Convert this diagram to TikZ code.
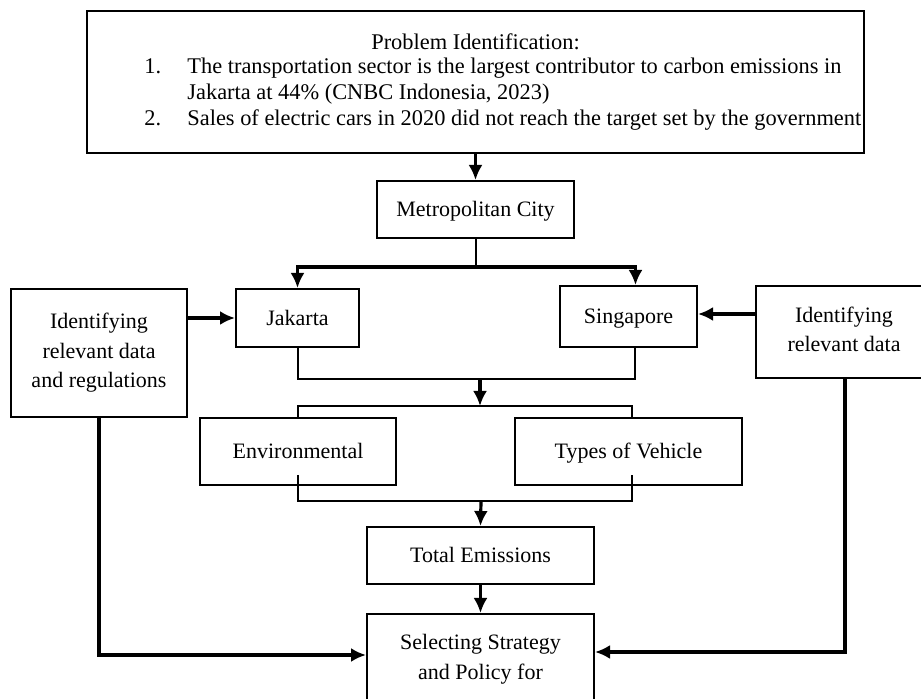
\documentclass[tikz,border=0pt]{standalone}
\usepackage{fontspec}
\setmainfont{Liberation Serif}
\usetikzlibrary{arrows.meta}

\newcommand{\BoxStrut}{\rule[-2.5pt]{0pt}{12.2pt}}
\tikzstyle{Block}=[rectangle,draw=black,line width=1pt,inner sep=0pt,
  align=center,font=\fontsize{11}{14.75}\selectfont,
  execute at begin node=\BoxStrut,execute at end node=\BoxStrut]
\tikzstyle{ArrowObject}=[black,line width=1.6pt,-{Latex[length=7.5pt,width=7pt]}]
\tikzstyle{LineObject}=[black,line width=1pt]

\begin{document}
\begin{tikzpicture}[x=0.5pt, y=-0.5pt]
		\useasboundingbox (0,0) rectangle (921,699);
		
		% Problem identification
		\draw(475.5,82) node[Block,minimum width=388.5pt,minimum height=71pt,
		  execute at begin node={},execute at end node={}] (Problem) {};
		\draw(475.5,42) node[font=\fontsize{11.2}{13}\selectfont,inner sep=0pt] (ProblemTitle) {Problem Identification:};
		\draw(144,94.5) node[anchor=west,inner sep=0pt,font=\fontsize{11.2}{13}\selectfont] (ProblemList) {%
		  \begin{tabular}{@{}p{21.5pt}@{}l@{}}
		  1. & The transportation sector is the largest contributor to carbon emissions in\\
		     & Jakarta at 44\% (CNBC Indonesia, 2023)\\
		  2. & Sales of electric cars in 2020 did not reach the target set by the government
		  \end{tabular}};
		
		% Cities
		\draw(475.5,209.5) node[Block,minimum width=98.5pt,minimum height=28.5pt] (Metro) {Metropolitan City};
		\draw(297.5,318) node[Block,minimum width=61.5pt,minimum height=29pt] (Jakarta) {Jakarta};
		\draw(628.5,316.5) node[Block,minimum width=68.5pt,minimum height=30.5pt] (Singapore) {Singapore};
		
		% Data sources
		\draw(99,353) node[Block,minimum width=88pt,minimum height=64pt] (IdentLeft) {Identifying\\relevant data\\and regulations};
		\draw(844,332) node[Block,minimum width=88pt,minimum height=46pt] (IdentRight) {Identifying\\relevant data};
		
		% Factors
		\draw(298,451.5) node[Block,minimum width=98pt,minimum height=33.5pt] (Env) {Environmental};
		\draw(628.5,451.5) node[Block,minimum width=113.5pt,minimum height=33.5pt] (Types) {Types of Vehicle};
		\draw(480.5,555.5) node[Block,minimum width=113.5pt,minimum height=28.5pt] (Total) {Total Emissions};
		\draw(480.5,659.5) node[Block,minimum width=113.5pt,minimum height=45.5pt] (Select) {Selecting Strategy\\and Policy for};
		
		% Junction points
		\coordinate (MetroSplit) at (475.5,267);
		\coordinate (CityJoin) at (480,379);
		\coordinate (FactorSplit) at (480,406);
		\coordinate (FactorJoin) at (481,501);
		
		% Arrows
		\draw[ArrowObject] (Problem.south -| Metro.north) -- (Metro.north);
		\draw[LineObject] (Metro.south) -- (MetroSplit);
		\draw[ArrowObject] (MetroSplit) -| (Jakarta.north);
		\draw[ArrowObject] (MetroSplit) -| ([xshift=3.5pt]Singapore.north);
		\draw[ArrowObject] (IdentLeft.east |- Jakarta.west) -- (Jakarta.west);
		\draw[ArrowObject] ([yshift=1.25pt]IdentRight.west |- Singapore.east) -- ([yshift=1.25pt]Singapore.east);
		\draw[LineObject] (Jakarta.south) |- (CityJoin) -| ([xshift=3pt]Singapore.south);
		\draw[ArrowObject] (CityJoin) -- (FactorSplit);
		\draw[LineObject] (Env.north) |- (FactorSplit) -| ([xshift=1.75pt]Types.north);
		\draw[LineObject] ([yshift=5.5pt]Env.south) |- (FactorJoin) -| ([xshift=1.75pt,yshift=5.5pt]Types.south);
		\draw[ArrowObject] (FactorJoin) -- (Total.north);
		\draw[ArrowObject] (Total.south) -- (Select.north);
		\draw[ArrowObject] (IdentLeft.south) |- ([yshift=2.25pt]Select.west);
		\draw[ArrowObject] ([xshift=0.5pt]IdentRight.south) |- ([yshift=3.75pt]Select.east);
		
	\end{tikzpicture}
\end{document}
